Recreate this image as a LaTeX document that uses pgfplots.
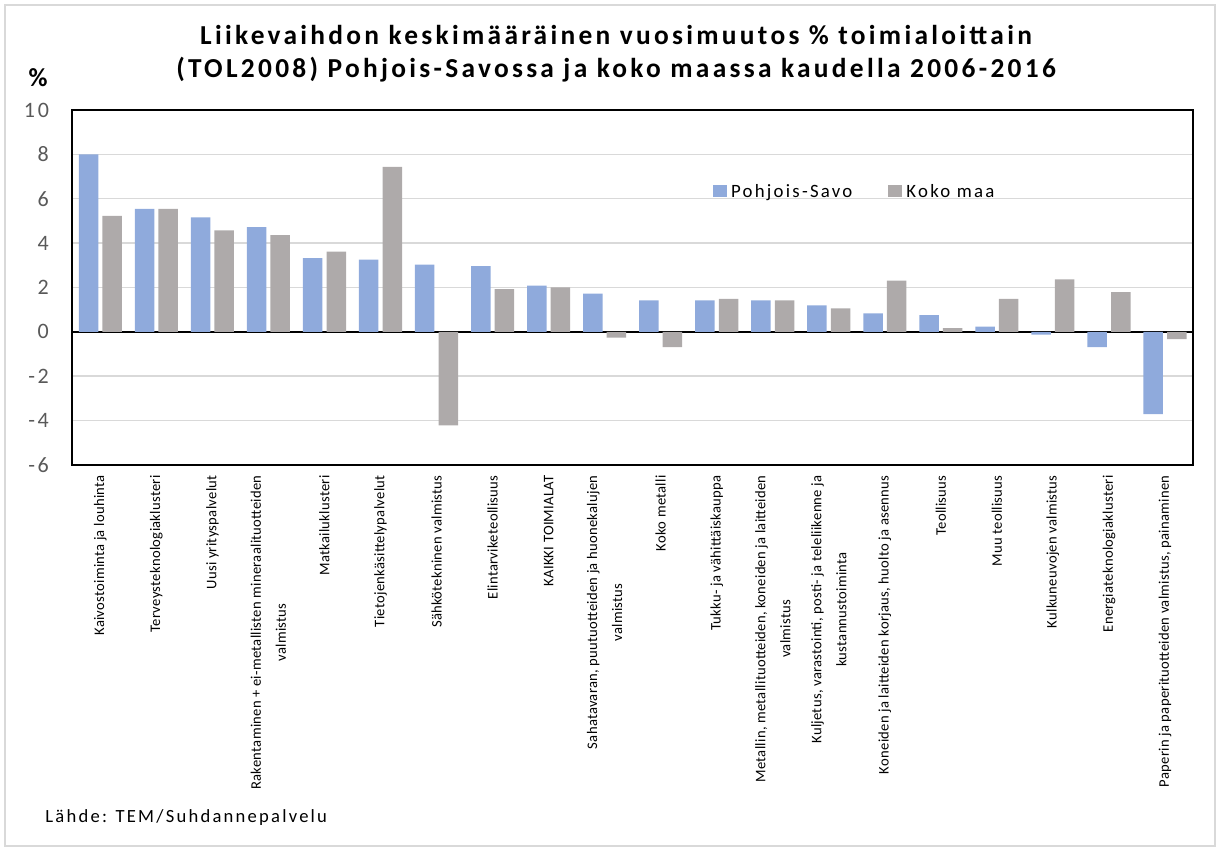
\documentclass[border=0pt]{standalone}
\usepackage{fontspec}
\setmainfont{Carlito}
\newfontfamily\spaced{Carlito}[LetterSpace=12]
\newfontfamily\lspaced{Carlito}[LetterSpace=2]
\usepackage{pgfplots}
\pgfplotsset{compat=1.18}
\definecolor{psblue}{HTML}{8FAADC}
\definecolor{kmgray}{HTML}{AEAAAA}
\definecolor{gridgray}{HTML}{D9D9D9}
\definecolor{ticktext}{HTML}{595959}
\begin{document}
\begin{tikzpicture}
\path[use as bounding box] (0,0) rectangle (609.5pt,424.5pt);
\draw[gridgray, line width=1pt] (2.5pt,1.5pt) rectangle (607.5pt,422pt);
\node[anchor=base, inner sep=0pt, font=\spaced\bfseries\fontsize{13.7}{15}\selectfont] at (308pt,402pt) {Liikevaihdon keskimääräinen vuosimuutos \% toimialoittain};
\node[anchor=base, inner sep=0pt, font=\spaced\bfseries\fontsize{13.7}{15}\selectfont] at (308pt,385.5pt) {(TOL2008) Pohjois-Savossa ja koko maassa kaudella 2006-2016};
\node[anchor=base, inner sep=0pt, font=\bfseries\fontsize{13}{13}\selectfont] at (19pt,381pt) {\%};
\node[anchor=base west, inner sep=0pt, font=\spaced\fontsize{9.3}{11}\selectfont] at (22.5pt,13pt) {Lähde: TEM/Suhdannepalvelu};
\begin{axis}[
  at={(36.15pt,192pt)}, anchor=south west,
  scale only axis, width=560.35pt, height=177.5pt,
  xmin=-0.5, xmax=19.5, ymin=-6, ymax=10,
  ytick={-6,-4,...,10},
  xtick={0,...,19},
  xticklabels={
    {Kaivostoiminta ja louhinta},
    {Terveysteknologiaklusteri},
    {Uusi yrityspalvelut},
    {Rakentaminen + ei-metallisten mineraalituotteiden\\valmistus},
    {Matkailuklusteri},
    {Tietojenkäsittelypalvelut},
    {Sähkötekninen valmistus},
    {Elintarviketeollisuus},
    {KAIKKI TOIMIALAT},
    {Sahatavaran, puutuotteiden ja huonekalujen\\valmistus},
    {Koko metalli},
    {Tukku- ja vähittäiskauppa},
    {Metallin, metallituotteiden, koneiden ja laitteiden\\valmistus},
    {Kuljetus, varastointi, posti- ja teleliikenne ja\\kustannustoiminta},
    {Koneiden ja laitteiden korjaus, huolto ja asennus},
    {Teollisuus},
    {Muu teollisuus},
    {Kulkuneuvojen valmistus},
    {Energiateknologiaklusteri},
    {Paperin ja paperituotteiden valmistus, painaminen}},
  xticklabel style={rotate=90, anchor=east, align=center, inner sep=0pt,
     font=\lspaced\fontsize{7.3}{12.5}\selectfont},
  xticklabel shift=5pt,
  yticklabel style={anchor=east, inner sep=0pt, text=ticktext,
     font=\spaced\fontsize{11}{12}\selectfont},
  yticklabel shift=11.5pt,
  /pgf/number format/assume math mode=true,
  major tick length=0pt,
  ymajorgrids, grid style={gridgray, line width=0.75pt},
  extra y ticks={0}, extra y tick labels={},
  extra y tick style={grid style={black, line width=1pt}},
  axis line style={black, line width=1pt},
  ybar, bar width=9.75pt,
  legend style={draw=none, fill=none, at={(0.5714,0.769)}, anchor=west,
     font=\spaced\fontsize{9.4}{11}\selectfont, inner sep=0pt,
     /tikz/every even column/.append style={column sep=16pt},
     /tikz/every odd column/.append style={inner sep=0pt}},
  legend columns=2,
  legend image code/.code={\fill[#1] (0pt,-2.5pt) rectangle (7pt,3.5pt);},
]
\addplot[fill=psblue, draw=none, bar shift=-5.9pt] coordinates {
 (0,8.0) (1,5.54) (2,5.16) (3,4.72) (4,3.32) (5,3.26) (6,3.03) (7,2.96) (8,2.08) (9,1.72)
 (10,1.42) (11,1.42) (12,1.42) (13,1.19) (14,0.83) (15,0.75) (16,0.24) (17,-0.12) (18,-0.69) (19,-3.71)};
\addlegendentry{Pohjois-Savo}
\addplot[fill=kmgray, draw=none, bar shift=5.9pt] coordinates {
 (0,5.23) (1,5.54) (2,4.57) (3,4.36) (4,3.62) (5,7.44) (6,-4.21) (7,1.93) (8,2.0) (9,-0.26)
 (10,-0.69) (11,1.49) (12,1.42) (13,1.06) (14,2.31) (15,0.17) (16,1.49) (17,2.37) (18,1.79) (19,-0.33)};
\addlegendentry{Koko maa}
\end{axis}
\end{tikzpicture}
\end{document}
